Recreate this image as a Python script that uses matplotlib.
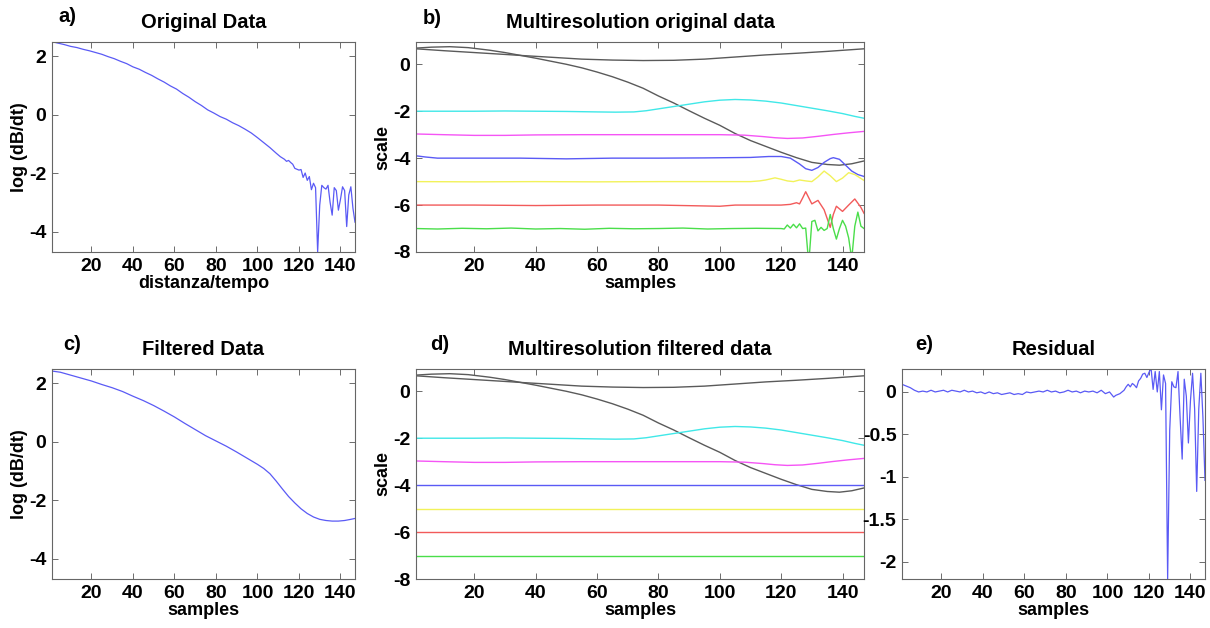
import matplotlib
matplotlib.use("Agg")
import matplotlib.pyplot as plt

plt.rcParams.update({
    "font.family": "Liberation Sans",
    "font.weight": "bold",
    "axes.labelweight": "bold",
    "axes.titleweight": "bold",
    "axes.unicode_minus": False,
    "xtick.direction": "in",
    "ytick.direction": "in",
    "xtick.top": True,
    "ytick.right": True,
})

W, H = 1210, 628

# ── data ──────────────────────────────────────────────────────────────────

# a) original data
orig_x = [1, 4, 7, 10, 13, 16, 19, 22, 25, 28, 31, 34, 37, 40, 43, 46, 49, 52, 55,
          58, 61, 64, 67, 70, 73, 76, 79, 82, 85, 88, 91, 94, 97, 100, 103, 106,
          109, 111, 113, 114, 115, 116, 117, 118, 119, 120, 121, 122, 123, 124,
          125, 126, 127, 128, 129, 130, 131, 132, 133, 134, 135, 136, 137, 138,
          139, 140, 141, 142, 143, 144, 145, 146, 147]
orig_y = [2.49, 2.44, 2.39, 2.33, 2.29, 2.23, 2.18, 2.12, 2.06, 1.98, 1.91, 1.82,
          1.74, 1.63, 1.55, 1.44, 1.34, 1.22, 1.11, 0.98, 0.87, 0.72, 0.59, 0.44,
          0.31, 0.16, 0.05, -0.07, -0.16, -0.28, -0.38, -0.5, -0.63, -0.79, -0.96,
          -1.13, -1.32, -1.44, -1.53, -1.6, -1.57, -1.64, -1.7, -1.84, -1.87, -1.9,
          -1.88, -2.15, -2.0, -2.25, -2.12, -2.57, -2.35, -2.5, -4.7, -3.1, -2.42,
          -2.5, -2.55, -2.42, -3.0, -3.44, -2.5, -2.6, -3.27, -2.9, -2.47, -2.6,
          -3.83, -2.75, -2.47, -3.2, -3.68]

# c) filtered data
filt_x = [1, 5, 10, 15, 20, 25, 30, 35, 40, 45, 50, 55, 60, 65, 70, 75, 80, 85,
          90, 95, 100, 103, 106, 109, 112, 115, 118, 121, 124, 127, 130, 133, 136,
          139, 142, 145, 147]
filt_y = [2.41, 2.37, 2.27, 2.17, 2.07, 1.95, 1.84, 1.71, 1.55, 1.4, 1.23, 1.04,
          0.84, 0.62, 0.41, 0.2, 0.02, -0.16, -0.36, -0.57, -0.78, -0.92, -1.1,
          -1.35, -1.62, -1.88, -2.1, -2.3, -2.46, -2.58, -2.66, -2.7, -2.72,
          -2.72, -2.7, -2.66, -2.63]

# e) residual
res_x = [1, 3, 5, 7, 9, 11, 13, 15, 17, 19, 21, 23, 25, 27, 29, 31, 33, 35, 37,
         39, 41, 43, 45, 47, 49, 51, 53, 55, 57, 59, 61, 63, 65, 67, 69, 71, 73,
         75, 77, 79, 81, 83, 85, 87, 89, 91, 93, 95, 97, 99, 101, 102, 103, 104,
         105, 106, 107, 108, 109, 110, 111, 112, 113, 114, 115, 116, 117, 118,
         119, 120, 121, 122, 123, 124, 125, 126, 127, 128, 129, 130, 131, 132,
         133, 134, 135, 136, 137, 138, 139, 140, 141, 142, 143, 144, 145, 146, 147]
res_y = [0.09, 0.07, 0.05, 0.02, 0.0, 0.01, 0.0, 0.02, 0.0, 0.01, 0.02, 0.0, 0.02,
         0.01, 0.0, 0.02, 0.0, 0.01, -0.01, 0.0, -0.02, 0.0, -0.02, -0.01, -0.03,
         -0.02, -0.01, -0.03, -0.02, -0.03, 0.0, -0.01, 0.0, 0.01, 0.0, 0.02, 0.0,
         0.01, -0.01, 0.0, 0.02, 0.0, 0.01, -0.01, 0.01, 0.0, 0.01, -0.01, 0.02,
         -0.02, 0.0, -0.03, -0.06, -0.04, -0.03, -0.02, 0.0, 0.02, 0.06, 0.09,
         0.06, 0.1, 0.08, 0.05, 0.13, 0.16, 0.21, 0.22, 0.17, 0.23, 0.28, 0.03,
         0.24, 0.0, 0.24, -0.21, 0.2, 0.1, -2.2, -0.45, 0.12, 0.06, 0.05, 0.24,
         -0.3, -0.79, 0.15, -0.05, -0.6, -0.1, 0.22, -0.2, -1.17, -0.2, 0.22,
         -0.3, -1.04]

# b/d) multiresolution components
blk1_x = [1, 10, 20, 30, 36, 45, 55, 65, 75, 85, 95, 105, 115, 125, 135, 147]
blk1_y = [0.66, 0.58, 0.5, 0.42, 0.37, 0.3, 0.22, 0.18, 0.16, 0.17, 0.22, 0.31,
          0.4, 0.47, 0.55, 0.66]

blk2_x = [1, 6, 12, 18, 25, 30, 35, 40, 45, 50, 55, 60, 65, 70, 75, 80, 85, 90,
          95, 100, 105, 110, 115, 120, 125, 130, 135, 139, 143, 147]
blk2_y = [0.69, 0.73, 0.75, 0.71, 0.6, 0.5, 0.38, 0.26, 0.13, 0.0, -0.15, -0.33,
          -0.53, -0.76, -1.02, -1.35, -1.65, -1.98, -2.3, -2.6, -2.95, -3.25,
          -3.5, -3.75, -3.98, -4.18, -4.27, -4.3, -4.24, -4.12]

cyan_x = [1, 10, 20, 30, 40, 50, 60, 66, 72, 76, 80, 85, 90, 95, 100, 105, 110,
          115, 120, 125, 130, 135, 140, 144, 147]
cyan_y = [-2.0, -2.0, -2.0, -1.99, -2.0, -2.01, -2.03, -2.04, -2.03, -1.98, -1.9,
          -1.8, -1.7, -1.6, -1.53, -1.5, -1.52, -1.57, -1.65, -1.76, -1.87,
          -1.98, -2.1, -2.22, -2.3]

mag_x = [1, 10, 20, 30, 40, 55, 70, 85, 100, 108, 114, 118, 122, 127, 132, 137,
         142, 147]
mag_y = [-2.97, -3.0, -3.03, -3.03, -3.01, -3.0, -3.0, -3.0, -3.0, -3.02, -3.08,
         -3.13, -3.16, -3.14, -3.07, -2.99, -2.92, -2.86]

blue_x = [1, 4, 8, 20, 35, 50, 65, 80, 95, 110, 116, 120, 123, 126, 128, 130,
          132, 134, 136, 137, 139, 141, 143, 145, 147]
blue_y = [-3.9, -3.95, -4.0, -4.0, -4.0, -4.03, -4.0, -4.0, -3.99, -3.97, -3.93,
          -3.93, -4.0, -4.25, -4.45, -4.52, -4.4, -4.18, -4.02, -3.98, -4.05,
          -4.3, -4.55, -4.7, -4.78]

yel_x = [1, 20, 40, 60, 80, 100, 110, 113, 115, 118, 120, 122, 124, 126, 128,
         130, 132, 134, 136, 138, 140, 142, 144, 147]
yel_y = [-5.0, -5.01, -5.0, -5.01, -5.0, -5.0, -5.0, -4.97, -4.93, -4.84, -4.9,
         -4.97, -5.0, -4.93, -4.97, -5.0, -4.8, -4.55, -4.75, -5.0, -4.85, -4.62,
         -4.7, -4.95]

red_x = [1, 20, 40, 60, 80, 100, 105, 120, 123, 125, 126, 127, 128, 130, 132,
         134, 136, 137, 138, 140, 142, 144, 146, 147]
red_y = [-6.0, -6.0, -6.02, -6.0, -6.0, -6.05, -6.0, -6.0, -5.97, -5.9, -5.95,
         -5.7, -5.43, -5.95, -5.8, -6.2, -6.95, -6.4, -6.05, -6.27, -6.0, -5.74,
         -6.1, -6.35]

grn_x = [1, 8, 16, 24, 32, 40, 48, 56, 64, 72, 80, 88, 96, 104, 112, 120, 121,
         122, 123, 124, 125, 126, 127, 128, 129, 130, 131, 132, 133, 134, 135,
         136, 137, 138, 139, 140, 141, 142, 143, 144, 145, 146, 147]
grn_y = [-7.0, -7.02, -6.99, -7.01, -6.98, -7.02, -7.0, -7.03, -6.99, -7.01, -7.0,
         -6.98, -7.02, -7.0, -6.99, -7.0, -7.02, -6.85, -6.98, -6.82, -6.97, -6.8,
         -7.0, -6.98, -8.5, -6.7, -6.65, -7.1, -6.95, -7.08, -7.0, -6.4, -7.0,
         -7.45, -7.0, -6.65, -6.9, -7.4, -8.3, -6.9, -6.3, -6.9, -7.0]

level_x = [1, 147]
levels_filtered = {"blue": -4, "yellow": -5, "red": -6, "green": -7}

XTICKS = [20, 40, 60, 80, 100, 120, 140]
COL = {
    "line": "#5a5af5",
    "black": "#5a5a5a",
    "cyan": "#40e8e8",
    "magenta": "#f554f5",
    "blue": "#5a5af5",
    "yellow": "#f2f25a",
    "red": "#f25a5a",
    "green": "#4ade4a",
}


def px_axes(fig, l, t, r, b):
    return fig.add_axes([l / W, 1 - b / H, (r - l) / W, (b - t) / H])


def style_ax(ax, title, xlabel, ylabel, ylim, yticks, yticklabels=None):
    ax.set_xlim(1, 147)
    ax.set_ylim(*ylim)
    ax.set_xticks(XTICKS)
    ax.set_yticks(yticks)
    if yticklabels is not None:
        ax.set_yticklabels(yticklabels)
    ax.tick_params(labelsize=14, length=4, width=0.6, color="#555555", pad=4)
    for s in ax.spines.values():
        s.set_color("#666666")
        s.set_linewidth(0.8)
    ax.set_title(title, fontsize=14.5, pad=10)
    ax.set_xlabel(xlabel, fontsize=13, labelpad=0)
    ax.set_ylabel(ylabel, fontsize=13, labelpad=1)


def multires(ax, filtered):
    lw = 1.0
    ax.plot(blk1_x, blk1_y, color=COL["black"], lw=lw)
    ax.plot(blk2_x, blk2_y, color=COL["black"], lw=lw)
    ax.plot(cyan_x, cyan_y, color=COL["cyan"], lw=lw)
    ax.plot(mag_x, mag_y, color=COL["magenta"], lw=lw)
    if filtered:
        for name, lev in levels_filtered.items():
            ax.plot(level_x, [lev, lev], color=COL[name], lw=lw)
    else:
        ax.plot(blue_x, blue_y, color=COL["blue"], lw=lw)
        ax.plot(yel_x, yel_y, color=COL["yellow"], lw=lw)
        ax.plot(red_x, red_y, color=COL["red"], lw=lw)
        ax.plot(grn_x, grn_y, color=COL["green"], lw=lw)


fig = plt.figure(figsize=(W / 100, H / 100), dpi=100)

ax_a = px_axes(fig, 52, 42, 355, 252)
ax_a.plot(orig_x, orig_y, color=COL["line"], lw=0.9)
style_ax(ax_a, "Original Data", "distanza/tempo", "log (dB/dt)",
         (-4.7, 2.48), [-4, -2, 0, 2])

ax_b = px_axes(fig, 416, 42, 864, 252)
multires(ax_b, filtered=False)
style_ax(ax_b, "Multiresolution original data", "samples", "scale",
         (-8, 0.95), [-8, -6, -4, -2, 0])

ax_c = px_axes(fig, 52, 369, 355, 579)
ax_c.plot(filt_x, filt_y, color=COL["line"], lw=0.9)
style_ax(ax_c, "Filtered Data", "samples", "log (dB/dt)",
         (-4.7, 2.48), [-4, -2, 0, 2])

ax_d = px_axes(fig, 416, 369, 864, 579)
multires(ax_d, filtered=True)
style_ax(ax_d, "Multiresolution filtered data", "samples", "scale",
         (-8, 0.95), [-8, -6, -4, -2, 0])

ax_e = px_axes(fig, 902, 369, 1205, 579)
ax_e.plot(res_x, res_y, color=COL["line"], lw=0.9)
style_ax(ax_e, "Residual", "samples", "",
         (-2.2, 0.27), [-2, -1.5, -1, -0.5, 0], ["-2", "-1.5", "-1", "-0.5", "0"])

# panel letters
for lab, (x, y) in {"a)": (58, 17), "b)": (423, 18), "c)": (63, 344),
                    "d)": (430, 344), "e)": (915, 345)}.items():
    fig.text(x / W, 1 - y / H, lab, fontsize=14.5, fontweight="bold",
             ha="left", va="center")

fig.savefig("out.png", dpi=100)
